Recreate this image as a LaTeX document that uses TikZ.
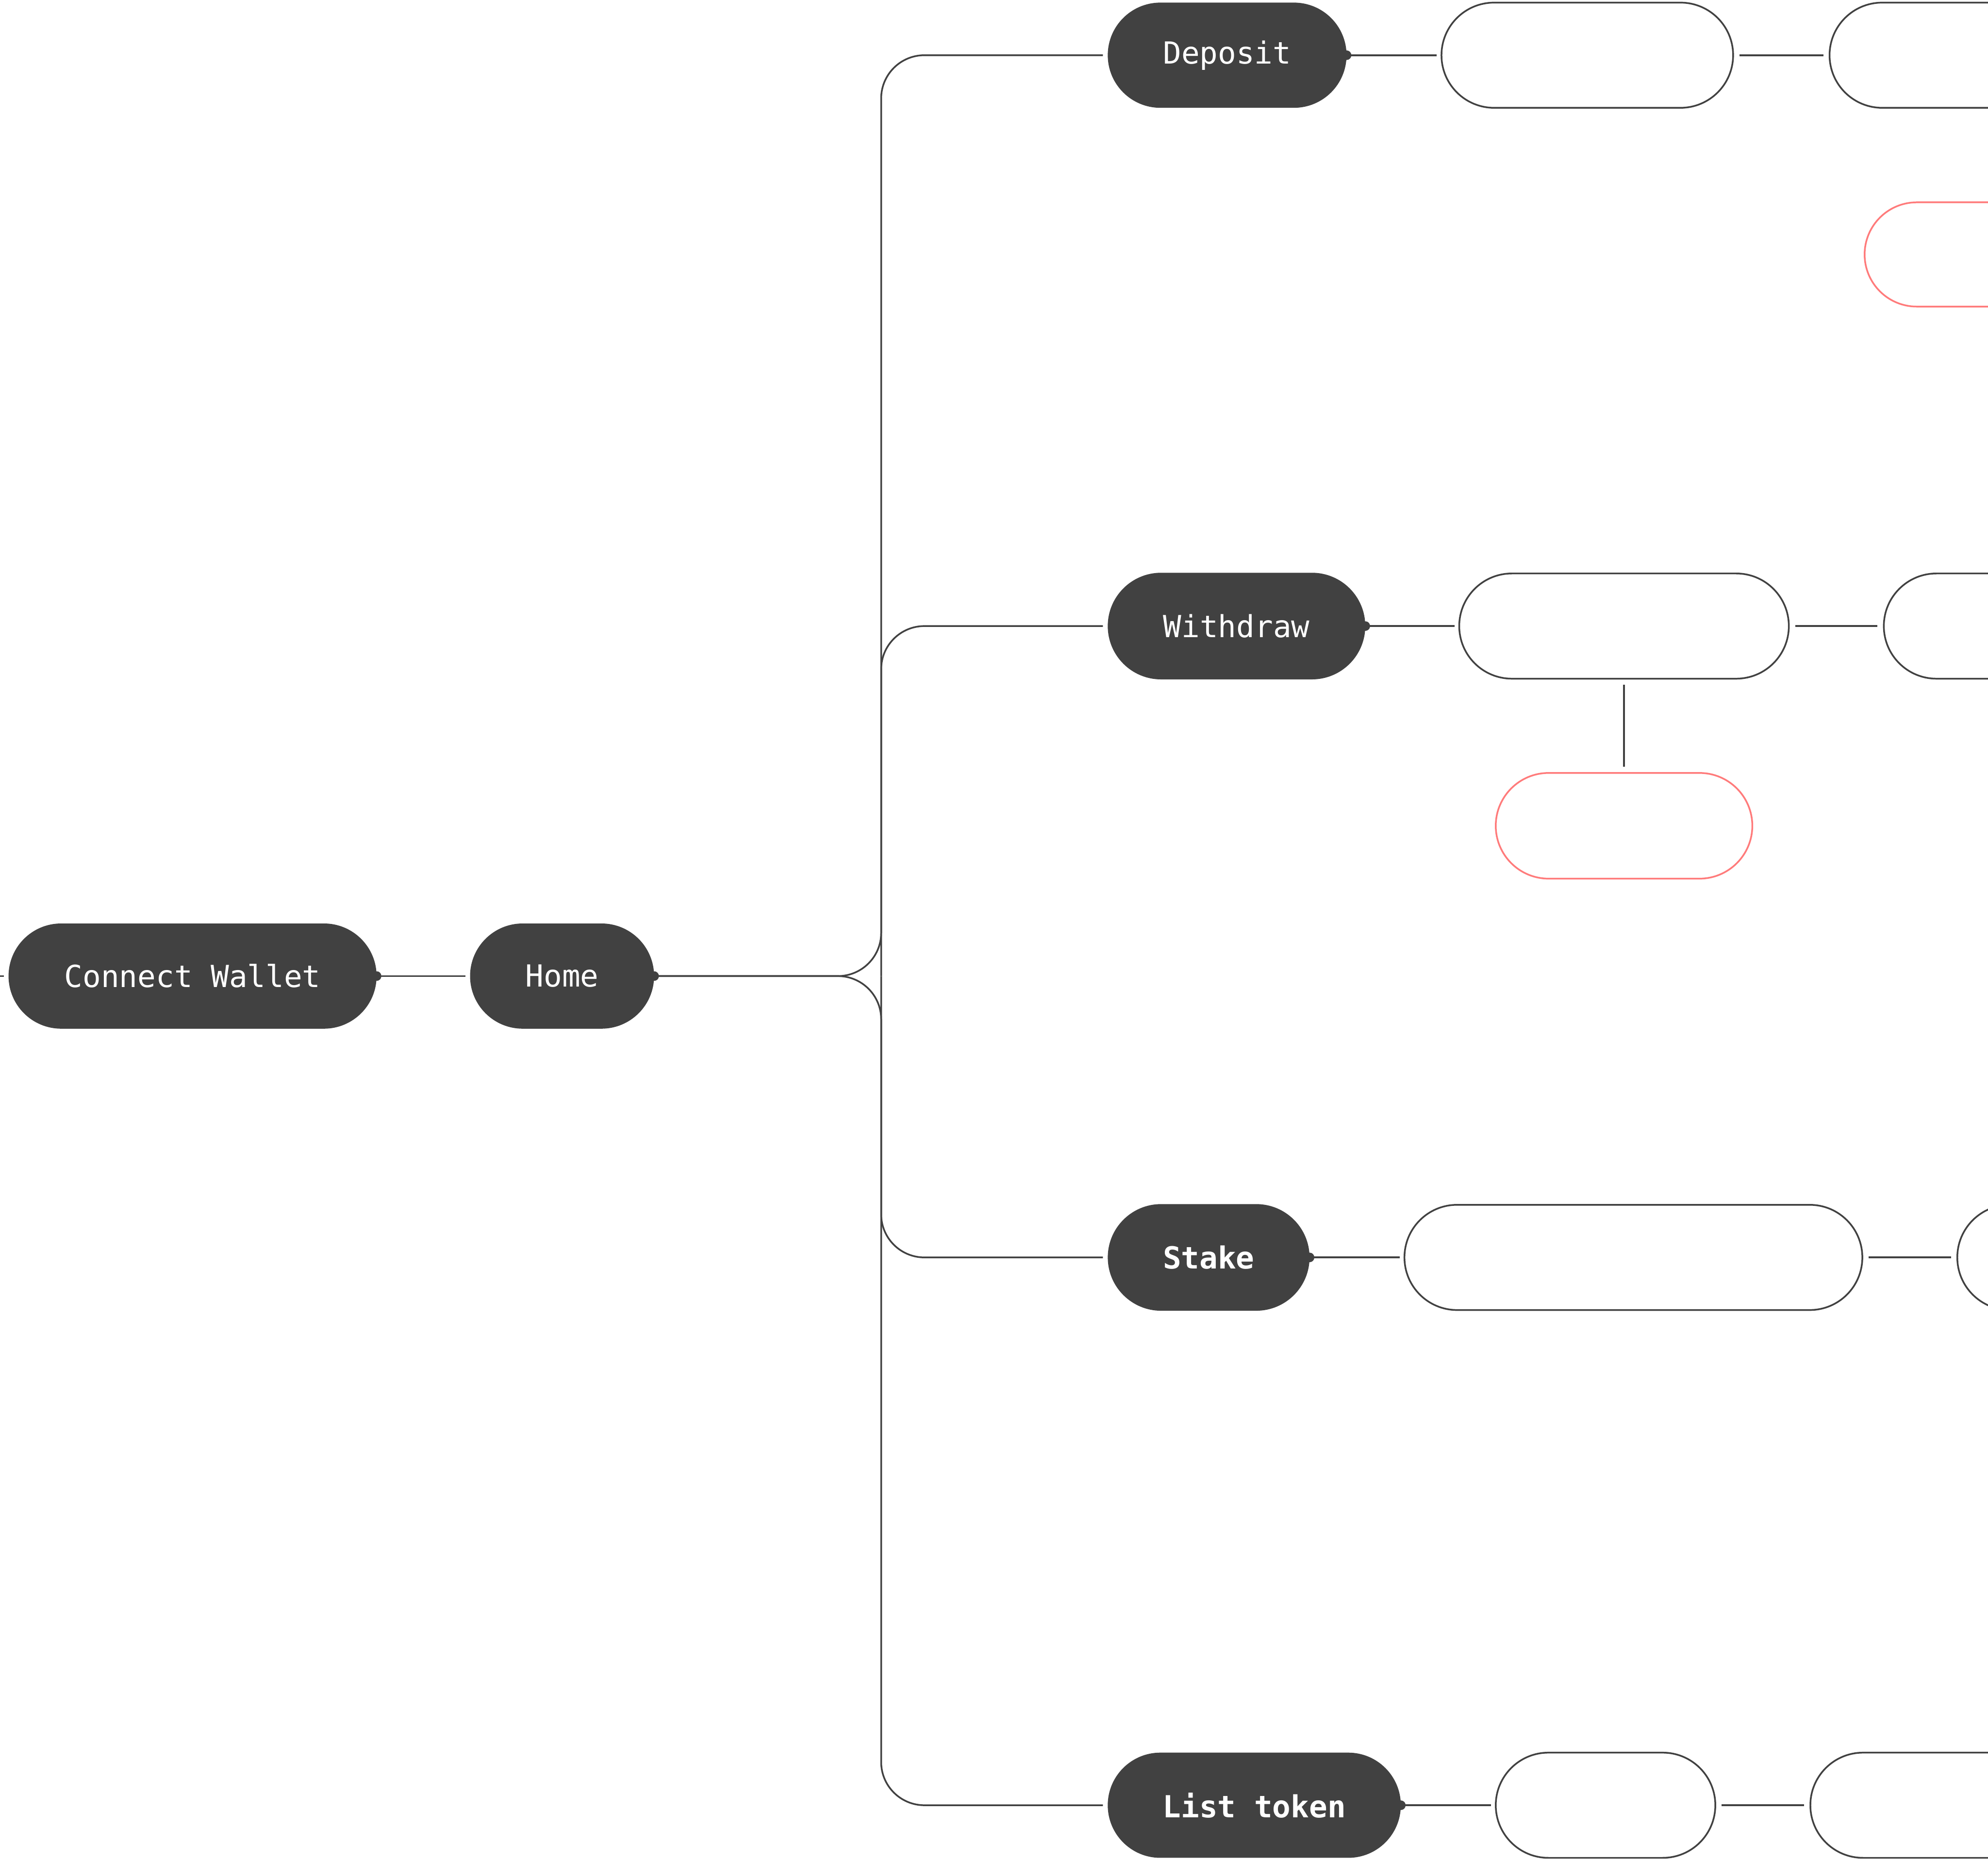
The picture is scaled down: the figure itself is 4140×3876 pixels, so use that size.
\documentclass[tikz,border=0pt]{standalone}
\usepackage{fontspec}
\newfontfamily\monof{DejaVu Sans Mono}
\usetikzlibrary{shapes.misc}
\definecolor{dk}{HTML}{414141}
\definecolor{rd}{HTML}{FF7B7B}
\begin{document}
\begin{tikzpicture}[x=0.01cm,y=-0.01cm,
  pill/.style={rounded rectangle, minimum height=2.19cm, inner sep=0pt, outer sep=0pt,
    font=\monof\fontsize{18}{20}\selectfont},
  dark/.style={pill, fill=dk, text=white},
  darkb/.style={dark, font=\monof\bfseries\fontsize{18}{20}\selectfont},
  light/.style={pill, draw=dk, line width=1pt, fill=white, text=white},
  alert/.style={pill, draw=rd, line width=1pt, fill=white, text=white},
  link/.style={draw=dk, line width=1pt},
  gapend/.style={shorten >=0.1cm},
  gapboth/.style={shorten <=0.13cm, shorten >=0.13cm},
  knob/.style={fill=dk}]
\useasboundingbox (0,0) rectangle (4140,3876);
\clip (0,0) rectangle (4140,3876);
\fill[white] (0,0) rectangle (4140,3876);

% main nodes
\node[dark, minimum width=7.66cm] (cw) at (401,2033) {Connect Wallet};
\node[dark, minimum width=3.83cm] (home) at (1170.5,2033) {Home};
\coordinate (hub) at (1835,2033);
\coordinate (in) at (-60,2033);

% Deposit row
\node[dark, minimum width=4.97cm] (dep) at (2555.5,115) {Deposit};
\node[light, minimum width=6.07cm] (disc) at (3305.5,115) {Disclaimer};
\node[light, minimum width=7cm, anchor=west] (dep3) at (3810,115) {};
\node[alert, minimum width=6cm, minimum height=2.17cm, anchor=west] (nt) at (3883,530) {};

% Withdraw row
\node[dark, minimum width=5.36cm, minimum height=2.22cm] (wd) at (2575,1304) {Withdraw};
\node[light, minimum width=6.86cm] (cf) at (3382,1304) {Choose Funds};
\node[light, minimum width=6cm, anchor=west] (wd3) at (3923,1304) {};
\node[alert, minimum width=5.34cm, minimum height=2.2cm] (nf) at (3382,1720) {No Funds};

% Stake row
\node[darkb, minimum width=4.2cm, minimum height=2.22cm] (st) at (2517,2619) {Stake};
\node[light, minimum width=9.53cm] (csp) at (3401.5,2619) {Choose Staking Pool};
\node[light, minimum width=5cm, anchor=west] (st3) at (4076,2619) {};

% List token row
\node[darkb, minimum width=6.1cm] (lt) at (2612,3760) {List token};
\node[light, minimum width=4.57cm] (pu) at (3343.5,3760) {Pop Up};
\node[light, minimum width=6cm, anchor=west] (lt3) at (3770,3760) {};

% connectors
\draw[link, gapend] (in) -- (cw.west);
\draw[link, gapend] (cw.east) -- (home.west);
\draw[link, rounded corners=0.9cm, gapend] (home.east) -- (hub) |- (dep.west);
\draw[link, rounded corners=0.9cm, gapend] (home.east) -- (hub) |- (lt.west);
\draw[link, rounded corners=0.9cm, gapend] (hub) |- (wd.west);
\draw[link, rounded corners=0.9cm, gapend] (hub) |- (st.west);

\draw[link, gapend] (dep.east) -- (disc.west);
\draw[link, gapboth] (disc.east) -- (dep3.west);
\draw[link, gapend] (wd.east) -- (cf.west);
\draw[link, gapboth] (cf.east) -- (wd3.west);
\draw[link, gapboth] (cf.south) -- (nf.north);
\draw[link, gapend] (st.east) -- (csp.west);
\draw[link, gapboth] (csp.east) -- (st3.west);
\draw[link, gapend] (lt.east) -- (pu.west);
\draw[link, gapboth] (pu.east) -- (lt3.west);

% knobs
\foreach \n in {cw,home,dep,wd,st,lt} \fill[knob] (\n.east) circle (0.1cm);
\end{tikzpicture}
\end{document}
